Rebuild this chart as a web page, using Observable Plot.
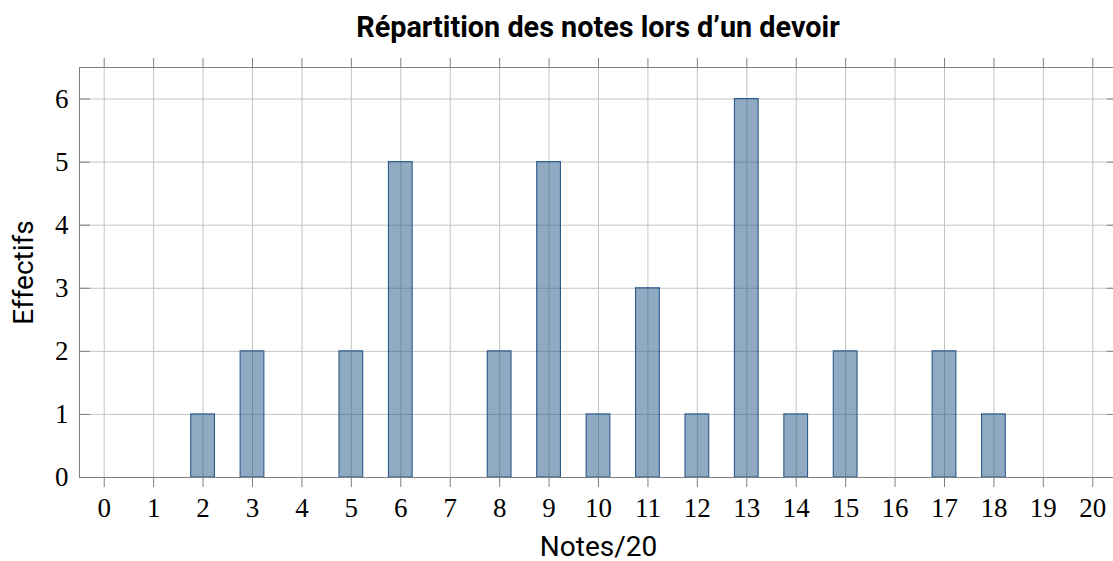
<!DOCTYPE html>
<html><head><meta charset="utf-8">
<script src="https://cdn.jsdelivr.net/npm/d3@7"></script>
<script src="https://cdn.jsdelivr.net/npm/@observablehq/plot@0.6"></script>
<style>
body{margin:0;background:#fff;overflow:hidden;width:1113px;height:561px}
#title{height:55px;width:1038px;margin-left:79px;text-align:center;font:bold 28.8px Roboto;line-height:54px;color:#000}
#chart svg{max-width:none !important}
</style></head><body>
<div id="title">Répartition des notes lors d’un devoir</div>
<div id="chart"></div>
<script>
const notes = [0,1,2,3,4,5,6,7,8,9,10,11,12,13,14,15,16,17,18,19,20];
const effectifs = [0,0,1,2,0,2,5,0,2,5,1,3,1,6,1,2,0,2,1,0,0];
const yTicks = [0,1,2,3,4,5,6];
const data = notes.map((n,i)=>({note:n, effectif:effectifs[i]}));
const halfWidth = 0.24;

const chart = Plot.plot({
  width: 1125, height: 506,
  marginLeft: 79, marginRight: 8, marginTop: 12, marginBottom: 84,
  style: {background: "#fff", overflow: "visible", maxWidth: "none"},
  x: {domain: [-0.5, 20.5]},
  y: {domain: [0, 6.5]},
  marks: [
    Plot.gridX(notes, {stroke: "#c4c4c4", strokeOpacity: 1}),
    Plot.gridY(yTicks, {stroke: "#c4c4c4", strokeOpacity: 1}),
    Plot.rectY(data.filter(d=>d.effectif>0), {x1: d=>d.note-halfWidth, x2: d=>d.note+halfWidth, y: "effectif", fill: "#23568a", fillOpacity: 0.5, stroke: "#2a5a8a", strokeWidth: 1.1}),
    Plot.axisX(notes, {anchor: "bottom", tickSize: 10, tickPadding: 10, stroke: "#808080", fontSize: 27, fontFamily: "Liberation Serif", fill: "#000", label: "Notes/20", labelAnchor: "center", labelArrow: "none", labelOffset: 78, tickFormat: d=>String(d)}),
    Plot.axisX(notes, {anchor: "top", tickSize: 10, stroke: "#808080", text: null, label: null}),
    Plot.axisY(yTicks, {anchor: "left", tickSize: -11, tickPadding: 22, stroke: "#808080", fontSize: 27, fontFamily: "Liberation Serif", fill: "#000", label: "Effectifs", labelAnchor: "center", labelArrow: "none", labelOffset: 66, tickFormat: d=>String(d)}),
    Plot.axisY(yTicks, {anchor: "right", tickSize: -11, stroke: "#808080", text: null, label: null}),
    Plot.frame({stroke: "#808080"})
  ]
});
chart.querySelectorAll('[aria-label="x-axis label"] text, [aria-label="y-axis label"] text').forEach(t=>{
  t.setAttribute("font-family","Roboto"); t.setAttribute("font-size","28"); t.setAttribute("fill","#000");
});
document.getElementById("chart").append(chart);
</script>
</body></html>
